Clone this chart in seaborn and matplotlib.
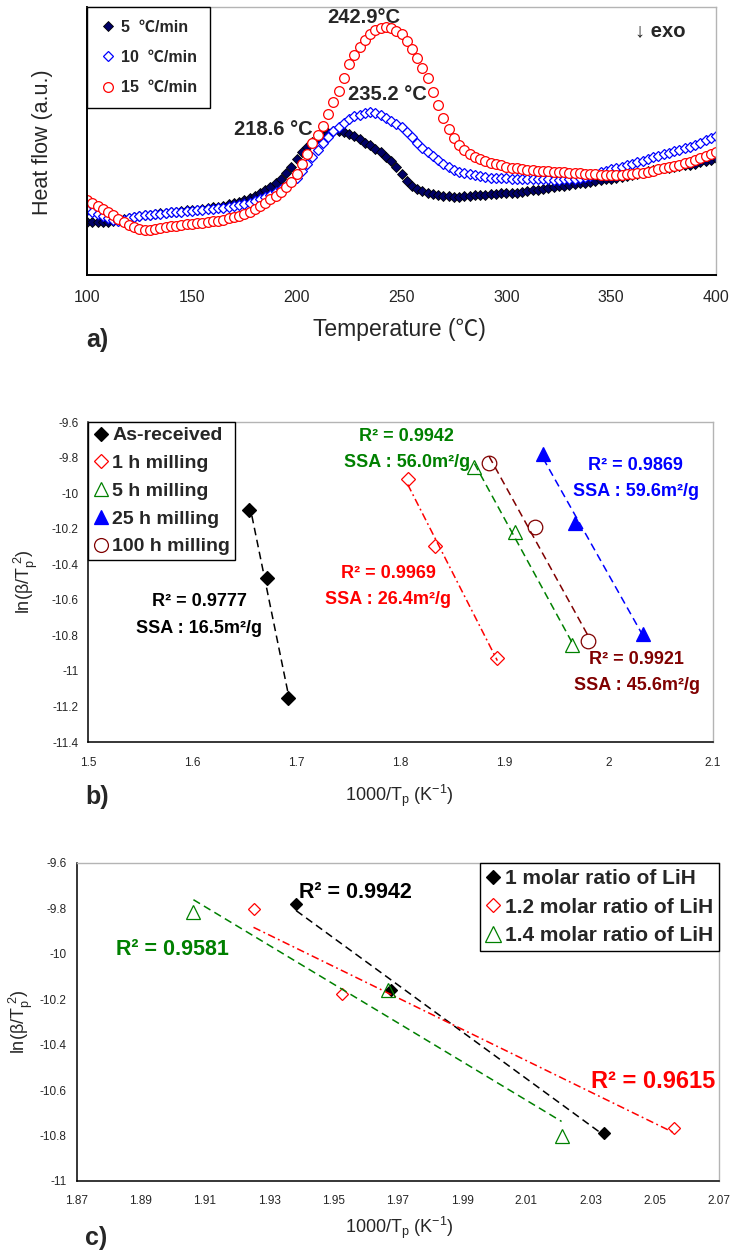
import numpy as np
import matplotlib
matplotlib.use("Agg")
import matplotlib.pyplot as plt
import seaborn as sns

sns.set_style("white")
plt.rcParams["font.family"] = ["Liberation Sans", "Noto Sans CJK KR", "DejaVu Sans"]
plt.rcParams["axes.unicode_minus"] = False
plt.rcParams["mathtext.fontset"] = "custom"
plt.rcParams["mathtext.rm"] = "Liberation Sans"
plt.rcParams["mathtext.it"] = "Liberation Sans:italic"
plt.rcParams["mathtext.bf"] = "Liberation Sans:bold"

FAM = ["Liberation Sans", "Noto Sans CJK KR", "DejaVu Sans"]

# ---------------- (a) DSC heat-flow curves ----------------
# sampling grid of the DSC traces (deg C)
TEMP = np.arange(100.0, 400.01, 2.5)

HF_5 = [
    1.79, 1.79, 1.79, 1.79, 1.79, 1.81, 1.84, 1.88, 1.92, 1.95,
    1.98, 2.00, 2.02, 2.05, 2.07, 2.09, 2.11, 2.13, 2.15, 2.17,
    2.18, 2.20, 2.22, 2.25, 2.27, 2.30, 2.33, 2.37, 2.41, 2.46,
    2.52, 2.58, 2.65, 2.74, 2.84, 2.95, 3.08, 3.24, 3.43, 3.64,
    3.90, 4.12, 4.30, 4.46, 4.60, 4.70, 4.78, 4.83, 4.84, 4.80,
    4.74, 4.66, 4.56, 4.45, 4.35, 4.24, 4.12, 3.98, 3.82, 3.62,
    3.40, 3.16, 3.00, 2.90, 2.82, 2.77, 2.73, 2.70, 2.67, 2.65,
    2.63, 2.63, 2.64, 2.66, 2.68, 2.69, 2.70, 2.71, 2.73, 2.74,
    2.75, 2.76, 2.77, 2.79, 2.81, 2.84, 2.87, 2.90, 2.93, 2.96,
    2.98, 3.00, 3.02, 3.05, 3.08, 3.10, 3.13, 3.16, 3.19, 3.21,
    3.24, 3.27, 3.30, 3.33, 3.36, 3.40, 3.44, 3.48, 3.52, 3.55,
    3.58, 3.61, 3.63, 3.66, 3.68, 3.71, 3.74, 3.78, 3.82, 3.87,
    3.92,
]

HF_10 = [
    2.19, 2.12, 2.04, 1.97, 1.91, 1.86, 1.83, 1.85, 1.90, 1.95,
    1.98, 2.00, 2.02, 2.04, 2.06, 2.08, 2.10, 2.12, 2.13, 2.15,
    2.16, 2.18, 2.19, 2.21, 2.22, 2.24, 2.26, 2.28, 2.31, 2.34,
    2.38, 2.43, 2.49, 2.55, 2.62, 2.69, 2.78, 2.88, 3.00, 3.12,
    3.27, 3.50, 3.72, 3.95, 4.20, 4.44, 4.65, 4.83, 4.98, 5.12,
    5.24, 5.33, 5.39, 5.44, 5.46, 5.44, 5.37, 5.28, 5.18, 5.08,
    4.96, 4.80, 4.62, 4.45, 4.28, 4.13, 3.99, 3.85, 3.74, 3.63,
    3.54, 3.47, 3.42, 3.38, 3.35, 3.32, 3.29, 3.27, 3.26, 3.25,
    3.25, 3.24, 3.24, 3.23, 3.23, 3.22, 3.22, 3.21, 3.21, 3.20,
    3.20, 3.21, 3.22, 3.24, 3.26, 3.29, 3.34, 3.40, 3.45, 3.50,
    3.55, 3.59, 3.63, 3.68, 3.73, 3.78, 3.83, 3.89, 3.95, 4.00,
    4.05, 4.10, 4.15, 4.20, 4.25, 4.30, 4.37, 4.44, 4.52, 4.59,
    4.66,
]

HF_15 = [
    2.53, 2.42, 2.33, 2.22, 2.11, 2.00, 1.88, 1.77, 1.68, 1.61,
    1.55, 1.52, 1.52, 1.55, 1.59, 1.62, 1.64, 1.66, 1.68, 1.70,
    1.72, 1.74, 1.76, 1.78, 1.80, 1.83, 1.86, 1.90, 1.94, 1.99,
    2.05, 2.12, 2.21, 2.31, 2.42, 2.54, 2.66, 2.80, 2.94, 3.12,
    3.38, 3.72, 4.08, 4.42, 4.70, 5.02, 5.40, 5.82, 6.18, 6.60,
    7.08, 7.40, 7.66, 7.90, 8.08, 8.23, 8.29, 8.32, 8.29, 8.21,
    8.08, 7.86, 7.60, 7.29, 6.95, 6.60, 6.13, 5.70, 5.27, 4.90,
    4.60, 4.37, 4.20, 4.06, 3.96, 3.88, 3.82, 3.77, 3.72, 3.68,
    3.64, 3.61, 3.59, 3.56, 3.54, 3.52, 3.50, 3.49, 3.48, 3.47,
    3.46, 3.45, 3.44, 3.43, 3.42, 3.40, 3.39, 3.38, 3.37, 3.37,
    3.37, 3.37, 3.37, 3.38, 3.40, 3.42, 3.44, 3.47, 3.51, 3.55,
    3.59, 3.63, 3.67, 3.71, 3.76, 3.81, 3.87, 3.93, 3.99, 4.06,
    4.12,
]

RATE_LABELS = ["5  ℃/min", "10  ℃/min", "15  ℃/min"]
PEAK_LABELS = ["218.6 °C", "235.2 °C", "242.9°C"]
PEAK_POS_T = [188.7, 243.1, 232.1]
PEAK_POS_V = [4.89, 6.07, 8.65]
TEMP_TICKS = [100, 150, 200, 250, 300, 350, 400]

# ---------------- (b) Kissinger plot vs milling time ----------------
ASREC_X = [1.655, 1.672, 1.692]
ASREC_Y = [-10.097, -10.48, -11.153]
MILL1_X = [1.807, 1.833, 1.893]
MILL1_Y = [-9.919, -10.298, -10.928]
MILL5_X = [1.871, 1.910, 1.965]
MILL5_Y = [-9.853, -10.219, -10.857]
MILL25_X = [1.937, 1.968, 2.033]
MILL25_Y = [-9.778, -10.167, -10.791]
MILL100_X = [1.885, 1.929, 1.980]
MILL100_Y = [-9.83, -10.19, -10.833]
MILL_LABELS = ["As-received", "1 h milling", "5 h milling", "25 h milling", "100 h milling"]
MILL_R2 = ["R² = 0.9777", "R² = 0.9969", "R² = 0.9942", "R² = 0.9869", "R² = 0.9921"]
MILL_SSA = ["SSA : 16.5m²/g", "SSA : 26.4m²/g", "SSA : 56.0m²/g",
            "SSA : 59.6m²/g", "SSA : 45.6m²/g"]
B_XTICKS = [1.5, 1.6, 1.7, 1.8, 1.9, 2.0, 2.1]
B_YTICKS = [-9.6, -9.8, -10.0, -10.2, -10.4, -10.6, -10.8, -11.0, -11.2, -11.4]

# ---------------- (c) Kissinger plot vs LiH ratio ----------------
LIH10_X = [1.9384, 1.968, 2.0343]
LIH10_Y = [-9.781, -10.158, -10.787]
LIH12_X = [1.9251, 1.9525, 2.056]
LIH12_Y = [-9.801, -10.177, -10.766]
LIH14_X = [1.9064, 1.967, 2.021]
LIH14_Y = [-9.817, -10.161, -10.80]
LIH_LABELS = ["1 molar ratio of LiH", "1.2 molar ratio of LiH", "1.4 molar ratio of LiH"]
LIH_R2 = ["R² = 0.9942", "R² = 0.9615", "R² = 0.9581"]
C_XTICKS = [1.87, 1.89, 1.91, 1.93, 1.95, 1.97, 1.99, 2.01, 2.03, 2.05, 2.07]
C_YTICKS = [-9.6, -9.8, -10.0, -10.2, -10.4, -10.6, -10.8, -11.0]

GREEN = "#008000"
MAROON = "#800000"
NAVY = "#000066"
DASH = (0, (5, 3))
DASHDOT = (0, (5, 2.2, 1.2, 2.2))


def fmt(v):
    return f"{v:g}"


def style_frame(ax, lw_main=1.1):
    for side in ("left", "bottom"):
        ax.spines[side].set_color("black")
        ax.spines[side].set_linewidth(lw_main)
    for side in ("top", "right"):
        ax.spines[side].set_color("#b4b4b4")
        ax.spines[side].set_linewidth(1.0)


def markers(ax, xs, ys, marker, ms, color, filled, face="white", label=None, mew=0.9):
    sns.lineplot(x=xs, y=ys, ax=ax, marker=marker, linestyle="", markersize=ms,
                 color=color, markeredgecolor="black" if filled == "dark" else color,
                 markerfacecolor=color if filled else face, markeredgewidth=mew,
                 estimator=None, sort=False, label=label)


def trend(ax, xs, ys, color, ls, lw=1.1):
    slope, icpt = np.polyfit(xs, ys, 1)
    xe = np.array([min(xs), max(xs)])
    sns.lineplot(x=xe, y=slope * xe + icpt, ax=ax, color=color, linestyle=ls,
                 linewidth=lw, estimator=None, sort=False, legend=False)


fig = plt.figure(figsize=(7.35, 12.53), dpi=100)
ax_a = fig.add_axes([0.1184, 0.7805, 0.8558, 0.2139])
ax_b = fig.add_axes([0.1197, 0.4078, 0.8503, 0.2554])
ax_c = fig.add_axes([0.1041, 0.0575, 0.8741, 0.2538])

# ---- panel (a)
markers(ax_a, TEMP, HF_5, "D", 4.8, NAVY, "dark", label=RATE_LABELS[0], mew=0.6)
markers(ax_a, TEMP, HF_10, "D", 4.8, "#0000ff", False, label=RATE_LABELS[1])
markers(ax_a, TEMP, HF_15, "o", 7.0, "#ff0000", False, label=RATE_LABELS[2])
ax_a.set_xlim(100, 400)
ax_a.set_ylim(0, 9)
ax_a.set_xticks(TEMP_TICKS)
ax_a.set_xticklabels([str(t) for t in TEMP_TICKS], fontsize=11.5)
ax_a.set_yticks(range(10))
ax_a.set_yticklabels([])
ax_a.tick_params(axis="both", direction="in", length=5, width=1, color="black")
ax_a.tick_params(axis="x", pad=11)
style_frame(ax_a, 1.4)
for lab, t, v in zip(PEAK_LABELS, PEAK_POS_T, PEAK_POS_V):
    ax_a.text(t, v, lab, ha="center", va="center", fontsize=14.5, fontweight="bold")
ax_a.text(373.3, 8.19, "↓ exo", ha="center", va="center", fontsize=14.5,
          fontweight="bold", family=FAM)
ax_a.set_xlabel("Temperature (℃)", fontsize=16.5, family=FAM, va="center")
ax_a.xaxis.set_label_coords(0.496, -0.2015)
ax_a.set_ylabel("Heat flow (a.u.)", fontsize=15.5, va="center")
ax_a.yaxis.set_label_coords(-0.0715, 0.496)
leg = ax_a.legend(loc="upper left", bbox_to_anchor=(0, 1), borderaxespad=0,
                  frameon=True, fancybox=False, edgecolor="black", framealpha=1,
                  prop=dict(family=FAM, weight="bold", size=11.5),
                  handlelength=1.0, handletextpad=0.35, labelspacing=0.95,
                  borderpad=0.8)
leg.get_frame().set_linewidth(1.0)

# ---- panel (b)
b_sets = [
    (ASREC_X, ASREC_Y, "D", 7.6, "black", True, DASH),
    (MILL1_X, MILL1_Y, "D", 7.6, "#ff0000", False, DASHDOT),
    (MILL5_X, MILL5_Y, "^", 10.5, GREEN, False, DASH),
    (MILL25_X, MILL25_Y, "^", 10.5, "#0000ff", True, DASH),
    (MILL100_X, MILL100_Y, "o", 10.5, MAROON, False, DASH),
]
for (xs, ys, mk, ms, col, filled, ls), lab in zip(b_sets, MILL_LABELS):
    trend(ax_b, xs, ys, col, ls)
    markers(ax_b, xs, ys, mk, ms, col, filled, face="none", label=lab)

b_text = [
    (1.607, -10.607, -10.76, "black"),
    (1.788, -10.45, -10.60, "#ff0000"),
    (1.806, -9.679, -9.825, GREEN),
    (2.026, -9.842, -9.992, "#0000ff"),
    (2.027, -10.934, -11.083, MAROON),
]
for (x, y1, y2, col), r2, ssa in zip(b_text, MILL_R2, MILL_SSA):
    ax_b.text(x, y1, r2, ha="center", va="center", fontsize=13, fontweight="bold", color=col)
    ax_b.text(x, y2, ssa, ha="center", va="center", fontsize=13, fontweight="bold", color=col)

ax_b.set_xlim(1.5, 2.1)
ax_b.set_ylim(-11.4, -9.6)
ax_b.set_xticks(B_XTICKS)
ax_b.set_xticklabels([fmt(v) for v in B_XTICKS], fontsize=8.5)
ax_b.set_yticks(B_YTICKS)
ax_b.set_yticklabels([fmt(v) for v in B_YTICKS], fontsize=8.5)
ax_b.tick_params(axis="both", direction="inout", length=6, width=1, color="black")
ax_b.tick_params(axis="x", pad=8)
ax_b.tick_params(axis="y", pad=4)
style_frame(ax_b)
ax_b.set_xlabel(r"1000/T$_{\mathrm{p}}$ (K$^{\mathrm{-1}}$)", fontsize=13, va="center")
ax_b.xaxis.set_label_coords(0.4976, -0.169)
ax_b.set_ylabel(r"ln(β/T$_{\mathrm{p}}^{\ \mathrm{2}}$)", fontsize=13, va="center")
ax_b.yaxis.set_label_coords(-0.0992, 0.5)
leg = ax_b.legend(loc="upper left", bbox_to_anchor=(0, 1), borderaxespad=0,
                  frameon=True, fancybox=False, edgecolor="black", framealpha=1,
                  prop=dict(weight="bold", size=14),
                  handlelength=0.8, handletextpad=0.2, labelspacing=0.52,
                  borderpad=0.25, markerscale=0.95)
leg.get_frame().set_linewidth(1.0)

# ---- panel (c)
c_sets = [
    (LIH10_X, LIH10_Y, "D", 6.6, "black", True, DASH),
    (LIH12_X, LIH12_Y, "D", 6.6, "#ff0000", False, DASHDOT),
    (LIH14_X, LIH14_Y, "^", 10.0, GREEN, False, DASH),
]
for (xs, ys, mk, ms, col, filled, ls), lab in zip(c_sets, LIH_LABELS):
    trend(ax_c, xs, ys, col, ls)
    markers(ax_c, xs, ys, mk, ms, col, filled, face="none", label=lab)

ax_c.text(1.9568, -9.732, LIH_R2[0], ha="center", va="center", fontsize=15.5,
          fontweight="bold", color="black")
ax_c.text(2.0496, -10.563, LIH_R2[1], ha="center", va="center", fontsize=17,
          fontweight="bold", color="#ff0000")
ax_c.text(1.900, -9.983, LIH_R2[2], ha="center", va="center", fontsize=15.5,
          fontweight="bold", color=GREEN)

ax_c.set_xlim(1.87, 2.07)
ax_c.set_ylim(-11.0, -9.6)
ax_c.set_xticks(C_XTICKS)
ax_c.set_xticklabels([fmt(v) for v in C_XTICKS], fontsize=8.5)
ax_c.set_yticks(C_YTICKS)
ax_c.set_yticklabels([fmt(v) for v in C_YTICKS], fontsize=8.5)
ax_c.tick_params(axis="both", direction="inout", length=6, width=1, color="black")
ax_c.tick_params(axis="x", pad=7)
ax_c.tick_params(axis="y", pad=4)
style_frame(ax_c)
ax_c.set_xlabel(r"1000/T$_{\mathrm{p}}$ (K$^{\mathrm{-1}}$)", fontsize=13, va="center")
ax_c.xaxis.set_label_coords(0.502, -0.148)
ax_c.set_ylabel(r"ln(β/T$_{\mathrm{p}}^{\ \mathrm{2}}$)", fontsize=13, va="center")
ax_c.yaxis.set_label_coords(-0.0864, 0.5)
leg = ax_c.legend(loc="upper right", bbox_to_anchor=(1, 1), borderaxespad=0,
                  frameon=True, fancybox=False, edgecolor="black", framealpha=1,
                  prop=dict(weight="bold", size=15),
                  handlelength=0.7, handletextpad=0.2, labelspacing=0.45,
                  borderpad=0.3, markerscale=1.1)
leg.get_frame().set_linewidth(1.0)

# panel letters
for txt, x, y in [("a)", 97, 340), ("b)", 97, 797), ("c)", 96, 1238)]:
    fig.text(x / 735, 1 - y / 1253, txt, ha="center", va="center",
             fontsize=18, fontweight="bold")

fig.savefig("out.png", dpi=100)
